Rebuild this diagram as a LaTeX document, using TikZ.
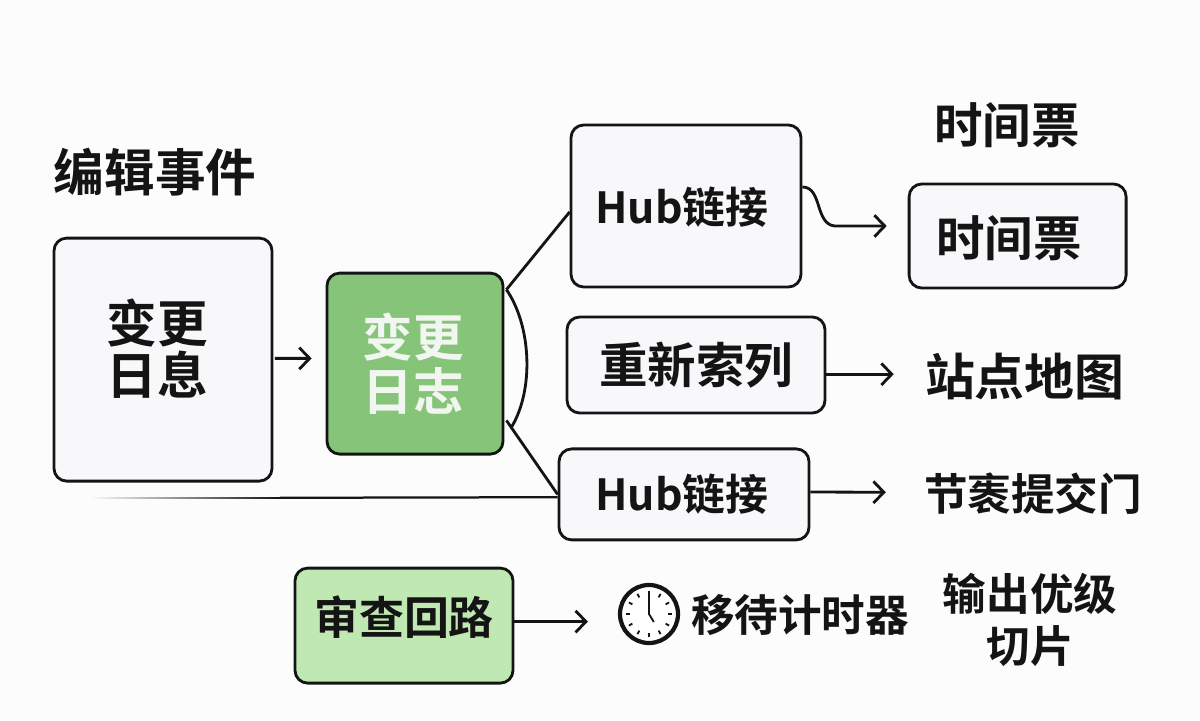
\documentclass[tikz,border=0pt]{standalone}
\usepackage{fontspec}
\setmainfont{Noto Sans CJK SC}[BoldFont={Noto Sans CJK SC Bold}]
\usetikzlibrary{arrows.meta,calc}
\definecolor{inkline}{HTML}{141414}
\definecolor{pagefill}{HTML}{FCFCFC}
\definecolor{boxfill}{HTML}{F8F8FA}
\definecolor{logfill}{HTML}{86C47A}
\definecolor{reviewfill}{HTML}{BFE8B2}
\definecolor{logtext}{HTML}{F2F6F0}

\begin{document}
\begin{tikzpicture}[
  font=\bfseries,
  >={Straight Barb[length=2.6mm,width=5.4mm,line width=2pt]},
  box/.style={rounded corners=9pt, draw=inkline, line width=2pt, fill=boxfill,
              align=center, inner sep=0pt, text=inkline},
  logbox/.style={box, fill=logfill},
  reviewbox/.style={box, fill=reviewfill},
  huge/.style={font=\bfseries\fontsize{36}{37}\selectfont},
  big/.style={font=\bfseries\fontsize{34.5}{38}\selectfont},
  mid/.style={font=\bfseries\fontsize{31}{37}\selectfont},
  lab/.style={inner sep=0pt, align=center, text=inkline},
  arr/.style={->, draw=inkline, line width=2pt},
  lin/.style={draw=inkline, line width=2pt},
]

% ---- page ----
\fill[pagefill] (0,0) rectangle (30,18);
\useasboundingbox (0,0) rectangle (30,18);

% ---- main row ----
\node[lab, huge] (title) at (3.875,13.7) {编辑事件};
\node[box, minimum width=5.45cm, minimum height=6.075cm] (msg) at (4.075,9.01) {};
\node[lab, huge] (msgtext) at ($(msg)+(-0.15,0.27)$) {变更\\日息};
\node[logbox, minimum width=4.4cm, minimum height=4.525cm] (log) at (10.375,8.91) {};
\node[lab, font=\bfseries\fontsize{36}{38.5}\selectfont, text=logtext] (logtext) at ($(log)+(-0.05,0)$) {变更\\日志};

% ---- branches ----
\node[box, minimum width=5.75cm, minimum height=4.05cm] (hubtop) at (17.15,12.85) {};
\node[lab, font=\bfseries\fontsize{30.5}{36}\selectfont] (hubtoptext) at ($(hubtop)+(-0.1,-0.02)$) {Hub链接};
\node[box, big, minimum width=6.45cm, minimum height=2.4cm] (reindex) at (17.4,8.875) {重新索列};
\node[box, minimum width=6.25cm, minimum height=2.275cm] (hubbot) at (17.1,5.64) {};
\node[lab, font=\bfseries\fontsize{30.5}{36}\selectfont] (hubbottext) at ($(hubbot)+(-0.05,0)$) {Hub链接};

% ---- outputs ----
\node[lab, big] (stamphead) at (25.175,14.875) {时间票};
\node[box, minimum width=5.425cm, minimum height=2.6cm] (stamp) at (25.44,12.1) {};
\node[lab, big] (stamptext) at ($(stamp)+(-0.21,-0.05)$) {时间票};
\node[lab, font=\bfseries\fontsize{35.5}{38}\selectfont] (sitemap) at (25.62,8.575) {站点地图};
\node[lab, mid] (commit) at (25.825,5.65) {节袠提交门};

% ---- review row ----
\node[reviewbox, minimum width=5.45cm, minimum height=2.875cm] (review) at (10.1,2.36) {};
\node[lab, font=\bfseries\fontsize{32}{37}\selectfont] (reviewtext) at ($(review)+(0,0.2)$) {审查回路};
\node[circle, draw=inkline, line width=3pt, fill=white, minimum size=1.45cm, inner sep=0pt] (clock) at (16.225,2.65) {};
\node[lab, mid] (timer) at (20,2.625) {移待计时器};
\node[lab, mid] (slice) at (25.75,2.5) {输出优级\\切片};

% ---- clock face ----
\foreach \a in {0,30,...,330} {
  \draw[inkline, line width=1.3pt] ($(clock.center)+(\a:0.48)$) -- ($(clock.center)+(\a:0.58)$);
}
\draw[inkline, line width=1.3pt] ($(clock.center)+(0,0.52)$) -- (clock.center) -- ($(clock.center)+(0.12,-0.2)$);

% ---- arrows ----
\draw[arr, shorten <=1pt, shorten >=0.35cm] ($(msg.east)+(0,0.03)$) -- ($(log.west)+(0,0.13)$);
\draw[lin] ($(log.east)+(0.05,1.85)$) -- ($(hubtop.west)+(0,-0.15)$);
\draw[lin] ($(log.east)+(0.05,-1.42)$) -- (hubbot.west);
\draw[lin] ($(log.east)+(0.05,1.85)$) .. controls +(0.62,-0.9) and +(0.58,0.95) .. ($(log.east)+(0.17,-1.6)$);

\coordinate (stampin) at ($(stamp.west)+(-0.525,0.25)$);
\coordinate (stampbend) at ($(stampin)+(-1.3,0)$);
\draw[arr] ($(hubtop.east)+(0,0.475)$) .. controls +(0.5,0) and +(-0.5,0.05) .. (stampbend) -- (stampin);
\draw[arr, shorten >=0.775cm] ($(reindex.east |- sitemap.west)+(0,0.07)$) -- ($(sitemap.west)+(0,0.07)$);
\draw[arr, shorten >=0.95cm] ($(hubbot.east)+(0,0.06)$) -- ($(commit.west)+(0,0.04)$);
\draw[arr, shorten >=0.75cm] ($(review.east)+(0,0.1)$) -- ($(review.east -| clock.west)+(0,0.1)$);

% ---- line running in from the left ----
\coordinate (fadeend) at (2.25,5.53);
\coordinate (fademid) at (7,5.575);
\shade[left color=pagefill, right color=inkline] (fadeend) rectangle (fademid);
\draw[lin, line width=1.6pt] ($(fademid)+(0,-0.02)$) -- ($(hubbot.west)+(0,-0.07)$);

\end{tikzpicture}
\end{document}
